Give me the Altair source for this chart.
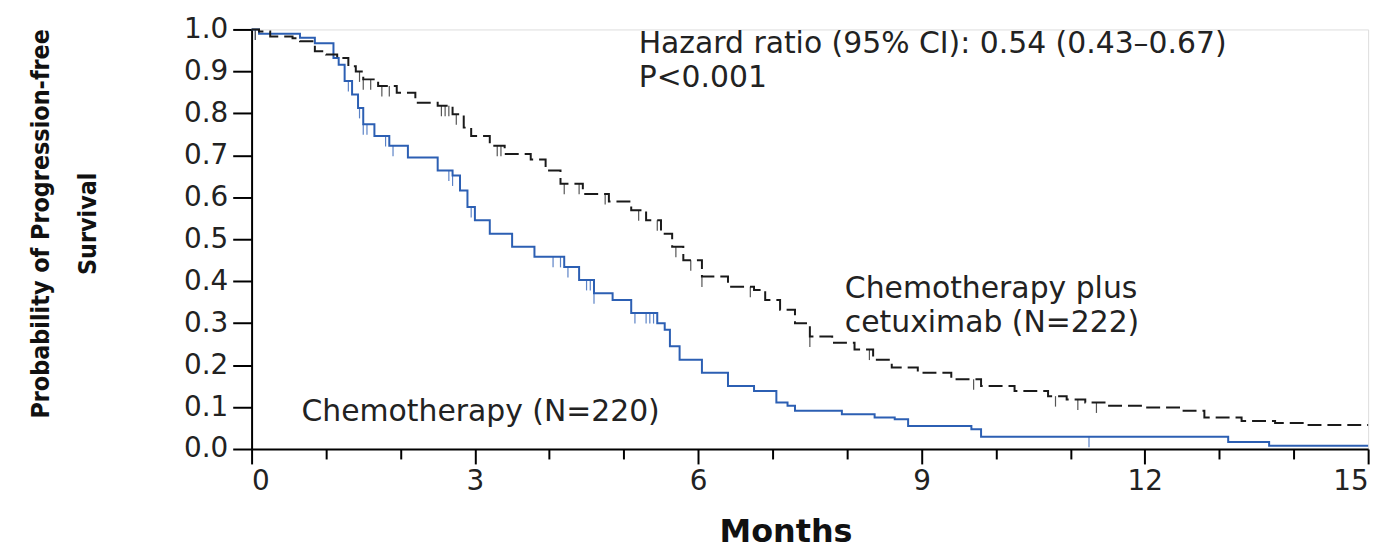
import altair as alt
import pandas as pd

# Kaplan-Meier step data (time in months, survival probability after the step)
cet_t = [0, 0.1, 0.25, 0.55, 0.65, 0.85, 1.0, 1.15, 1.3, 1.4, 1.5, 1.7, 1.95, 2.2, 2.5, 2.7, 2.85,
         2.95, 3.2, 3.4, 3.75, 3.95, 4.15, 4.45, 4.8, 5.1, 5.3, 5.5, 5.65, 5.8, 6.05, 6.4, 6.75, 6.9,
         7.1, 7.3, 7.5, 7.8, 8.1, 8.35, 8.6, 8.95, 9.4, 9.8, 10.25, 10.7, 10.95, 11.2, 11.5, 12.0,
         12.5, 12.8, 13.3, 13.75, 14.2, 15]
cet_s = [1.0, 0.995, 0.983, 0.979, 0.972, 0.948, 0.94, 0.932, 0.912, 0.9, 0.881, 0.865, 0.849, 0.825,
         0.818, 0.798, 0.766, 0.746, 0.723, 0.703, 0.69, 0.664, 0.632, 0.608, 0.59, 0.569, 0.545,
         0.513, 0.482, 0.45, 0.411, 0.387, 0.379, 0.355, 0.332, 0.3, 0.268, 0.253, 0.237, 0.213,
         0.194, 0.182, 0.166, 0.15, 0.138, 0.126, 0.118, 0.111, 0.103, 0.099, 0.091, 0.075, 0.067,
         0.062, 0.057, 0.057]

chemo_t = [0, 0.1, 0.65, 0.85, 1.1, 1.17, 1.25, 1.35, 1.43, 1.5, 1.65, 1.85, 2.1, 2.5, 2.7, 2.8,
           2.9, 3.0, 3.2, 3.5, 3.8, 4.2, 4.4, 4.6, 4.85, 5.1, 5.45, 5.55, 5.62, 5.75, 6.05, 6.4,
           6.75, 7.05, 7.2, 7.3, 7.93, 8.37, 8.64, 8.82, 9.67, 9.8, 13.12, 13.67, 15]
chemo_s = [1.0, 0.99, 0.98, 0.967, 0.932, 0.916, 0.877, 0.845, 0.813, 0.774, 0.746, 0.723, 0.695,
           0.664, 0.652, 0.616, 0.577, 0.545, 0.513, 0.482, 0.458, 0.434, 0.403, 0.371, 0.355,
           0.324, 0.3, 0.284, 0.245, 0.213, 0.182, 0.15, 0.138, 0.111, 0.103, 0.091, 0.083, 0.075,
           0.071, 0.055, 0.047, 0.029, 0.017, 0.008, 0.008]

# censoring times
cet_censor = [0.05, 1.45, 1.5, 1.6, 1.75, 1.85, 2.55, 2.6, 2.65, 2.75, 3.3, 3.35, 4.2, 4.4, 4.75,
              5.2, 5.45, 5.7, 5.9, 6.05, 6.7, 7.5, 8.3, 9.7, 10.8, 11.1, 11.35]
chemo_censor = [0.05, 1.3, 1.45, 1.5, 1.55, 1.8, 1.9, 2.65, 2.7, 2.95, 4.05, 4.15, 4.25, 4.5, 4.55,
                4.6, 5.15, 5.3, 5.35, 5.4, 11.25]

x_ticks = list(range(16))
y_ticks = [round(i / 10, 1) for i in range(11)]

ann_text = ["Hazard ratio (95% CI): 0.54 (0.43\u20130.67)", "P<0.001",
            "Chemotherapy plus", "cetuximab (N=222)", "Chemotherapy (N=220)"]
ann_x = [5.2, 5.2, 7.97, 7.97, 0.67]
ann_y = [0.943, 0.862, 0.36, 0.28, 0.066]

BLUE = "#2c5fb3"
BLACK = "#1a1a1a"


def step_value(ts, ss, t):
    v = ss[0]
    for ti, si in zip(ts, ss):
        if ti <= t:
            v = si
    return v


cet_df = pd.DataFrame({"t": cet_t, "s": cet_s})
chemo_df = pd.DataFrame({"t": chemo_t, "s": chemo_s})
cet_c = pd.DataFrame({"t": cet_censor, "s": [step_value(cet_t, cet_s, t) for t in cet_censor]})
chemo_c = pd.DataFrame({"t": chemo_censor, "s": [step_value(chemo_t, chemo_s, t) for t in chemo_censor]})
cet_c["s2"] = cet_c["s"] - 0.025
chemo_c["s2"] = chemo_c["s"] - 0.025
ann_df = pd.DataFrame({"x": ann_x, "y": ann_y, "text": ann_text})

xscale = alt.Scale(domain=[0, 15], nice=False, zero=False)
yscale = alt.Scale(domain=[0, 1], nice=False)

x_axis = alt.Axis(
    values=x_ticks, format="d",
    labelExpr="datum.value % 3 === 0 ? format(datum.value, 'd') : ''",
    tickSize={"condition": {"test": "datum.value % 3 === 0", "value": 15}, "value": 10},
    tickColor="black", tickWidth=2, domainColor="black", domainWidth=2,
    labelFont="DejaVu Sans", labelFontSize=28, labelColor="#222", labelPadding=4,
    grid=False,
    title="Months", titleFont="DejaVu Sans", titleFontSize=32, titleFontWeight="bold",
    titleColor="#111", titleX=537, titleY=93, titleBaseline="alphabetic", titleAlign="center",
)
y_axis = alt.Axis(
    values=y_ticks, format=".1f", tickSize=19, tickColor="black", tickWidth=2,
    domainColor="black", domainWidth=2,
    labelFont="DejaVu Sans", labelFontSize=28, labelColor="#222", labelPadding=5,
    grid=False,
    title=["Probability of Progression-free", "Survival"],
    titleFont="DejaVu Sans Condensed",
    titleFontSize=25, titleFontWeight="bold", titleColor="#111",
    titleLineHeight=47, titleAngle=270, titleAlign="center", titleBaseline="alphabetic",
    titleX=-204, titleY=195,
)

base_x = alt.X("t:Q", scale=xscale, axis=x_axis)
base_y = alt.Y("s:Q", scale=yscale, axis=y_axis)

cet_line = alt.Chart(cet_df).mark_line(
    interpolate="step-after", color=BLACK, strokeWidth=2, strokeDash=[14, 6]
).encode(x=base_x, y=base_y)

chemo_line = alt.Chart(chemo_df).mark_line(
    interpolate="step-after", color=BLUE, strokeWidth=2
).encode(x=alt.X("t:Q", scale=xscale), y=alt.Y("s:Q", scale=yscale))

cet_ticks = alt.Chart(cet_c).mark_rule(color="#555", strokeWidth=1.2).encode(
    x=alt.X("t:Q", scale=xscale), y=alt.Y("s:Q", scale=yscale), y2="s2:Q")
chemo_ticks = alt.Chart(chemo_c).mark_rule(color="#5b82c6", strokeWidth=1.2).encode(
    x=alt.X("t:Q", scale=xscale), y=alt.Y("s:Q", scale=yscale), y2="s2:Q")

ann = alt.Chart(ann_df).mark_text(
    align="left", baseline="alphabetic", font="DejaVu Sans", fontSize=30, color="#222"
).encode(x=alt.X("x:Q", scale=xscale), y=alt.Y("y:Q", scale=yscale), text="text:N")

chart = alt.layer(chemo_ticks, cet_ticks, chemo_line, cet_line, ann).properties(
    width=1123, height=422,
    autosize=alt.AutoSizeParams(type="none"),
    padding={"left": 245, "top": 20, "right": 23, "bottom": 99},
).configure_view(stroke=None).configure(background="white")

chart.save("out.html", embed_options={"renderer": "svg", "actions": False})
